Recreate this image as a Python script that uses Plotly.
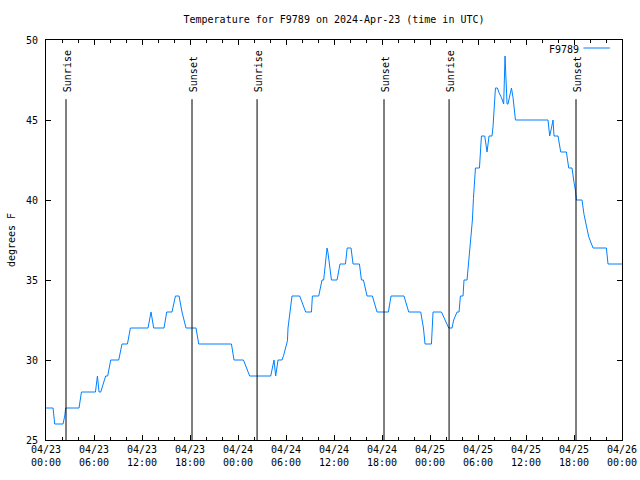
import datetime as dt
import plotly.graph_objects as go

# Hours since 2024-04-23 00:00 UTC and temperature (deg F)
hours = [0.0, 0.88, 1.09, 2.13, 2.34, 2.46, 4.13, 4.43, 6.18, 6.43, 6.63, 6.84, 7.46, 7.71,
         8.09, 9.09, 9.5, 10.18, 10.55, 12.75, 13.13, 13.46, 14.75, 15.09, 15.75, 16.18,
         16.63, 17.0, 17.5, 18.75, 19.09, 23.18, 23.5, 24.68, 25.46, 28.09, 28.5, 28.71,
         29.0, 29.5, 29.71, 29.93, 30.18, 30.25, 30.38, 30.5, 30.75, 31.71, 32.46, 33.18,
         33.3, 34.09, 34.34, 34.5, 34.71, 34.93, 35.13, 35.25, 35.46, 35.68, 36.38, 36.75,
         37.43, 37.65, 38.13, 38.38, 39.18, 39.43, 39.68, 40.13, 40.8, 41.38, 42.8, 43.13,
         44.75, 45.34, 46.84, 47.18, 47.38, 48.18, 48.38, 49.43, 50.34, 50.75, 50.96, 51.38,
         51.63, 51.8, 52.13, 52.25, 52.63, 52.75, 52.88, 53.09, 53.3, 53.43, 53.59, 53.68,
         54.18, 54.3, 54.43, 54.84, 55.13, 55.38, 55.75, 55.88, 56.0, 56.18, 56.43, 56.63,
         56.93, 57.21, 57.38, 57.46, 57.63, 57.75, 58.18, 58.38, 58.5, 58.68, 62.75, 62.96,
         63.18, 63.3, 63.38, 63.5, 64.0, 64.34, 65.05, 65.34, 65.75, 66.0, 66.18, 66.3,
         67.0, 67.25, 67.55, 67.84, 68.38, 70.05, 70.25, 72.0]
temps = [27, 27, 26, 26, 26.5, 27, 27, 28, 28, 29, 28, 28, 29, 29,
         30, 30, 31, 31, 32, 32, 33, 32, 32, 33, 33, 34,
         34, 33, 32, 32, 31, 31, 30, 30, 29, 29, 30, 29,
         30, 30, 30.3, 30.7, 31.2, 32, 32.6, 33, 34, 34, 33, 33,
         34, 34, 34.6, 35, 35, 36, 37, 36.7, 36, 35, 35, 36,
         36, 37, 37, 36, 36, 35, 35, 34, 34, 33, 33, 34,
         34, 33, 33, 32, 31, 31, 33, 33, 32, 32, 32.5, 33,
         33, 34, 34, 35, 35, 35.6, 36.5, 37.5, 38.75, 40.1, 41.5, 42,
         42, 43.5, 44, 44, 43, 44, 44, 44.6, 45.6, 47, 47, 46.7,
         46.4, 46, 49, 47.9, 46, 46, 47, 46.4, 45.8, 45, 45, 44,
         44.5, 45, 45, 44, 44, 43, 43, 42, 42, 41.1, 40.6, 40,
         40, 39.1, 38.3, 37.7, 37, 37, 36, 36]

sun_times = ["2024-04-23 02:30", "2024-04-23 18:15", "2024-04-24 02:23",
             "2024-04-24 18:15", "2024-04-25 02:23", "2024-04-25 18:15"]
sun_labels = ["Sunrise", "Sunset", "Sunrise", "Sunset", "Sunrise", "Sunset"]
sun_line_top = 46.3

start = dt.datetime(2024, 4, 23, 0, 0)
times = [start + dt.timedelta(hours=h) for h in hours]

FONT = "DejaVu Sans Mono"
fig = go.Figure()
fig.add_trace(go.Scatter(x=times, y=temps, mode="lines", name="F9789",
                         line=dict(color="#0080ff", width=1), showlegend=False))

for t, lab in zip(sun_times, sun_labels):
    fig.add_shape(type="line", xref="x", yref="y", x0=t, x1=t, y0=25, y1=sun_line_top,
                  line=dict(color="black", width=1))
    fig.add_annotation(x=t, y=sun_line_top, xref="x", yref="y", text=lab, textangle=-90,
                       showarrow=False, yanchor="bottom", xanchor="center", yshift=5, xshift=1,
                       font=dict(family=FONT, size=10, color="black"))

# legend (gnuplot style: text then line sample)
fig.add_annotation(x=0.928, y=0.977, xref="paper", yref="paper", text="F9789",
                   showarrow=False, xanchor="right", yanchor="middle",
                   font=dict(family=FONT, size=10, color="black"))
fig.add_shape(type="line", xref="paper", yref="paper", x0=0.933, x1=0.979, y0=0.98, y1=0.98,
              line=dict(color="#0080ff", width=1))

fig.update_layout(
    width=640, height=480,
    margin=dict(l=46, r=18, t=40, b=40),
    paper_bgcolor="white", plot_bgcolor="white",
    font=dict(family=FONT, size=10, color="black"),
    title=dict(text="Temperature for F9789 on 2024-Apr-23 (time in UTC)", x=0.5, xref="paper",
               y=1 - 19 / 480, yref="container", yanchor="middle", xanchor="center",
               font=dict(family=FONT, size=10, color="black")),
    showlegend=False,
)
fig.update_xaxes(type="date", range=["2024-04-23 00:00", "2024-04-26 00:00"], automargin=False,
                 dtick=6 * 3600 * 1000, tick0="2024-04-23 00:00", tickformat="%m/%d<br>%H:%M",
                 ticks="inside", ticklen=5, tickcolor="black", showline=True, linecolor="black",
                 linewidth=1, mirror="ticks", showgrid=False, zeroline=False,
                 minor=dict(dtick=2 * 3600 * 1000, ticks="inside", ticklen=3, tickcolor="black",
                            showgrid=False),
                 tickfont=dict(family=FONT, size=10, color="black"))
fig.update_yaxes(range=[25, 50], dtick=5, ticks="inside", ticklen=5, tickcolor="black",
                 showline=True, linecolor="black", linewidth=1, mirror="ticks", showgrid=False,
                 zeroline=False, ticklabelstandoff=5, automargin=False,
                 title=dict(text="degrees F", standoff=8, font=dict(family=FONT, size=10)),
                 tickfont=dict(family=FONT, size=10, color="black"))

fig.write_html("out.html", config={"displayModeBar": False},
               post_script="document.body.style.margin='0';document.body.style.overflow='hidden';")
